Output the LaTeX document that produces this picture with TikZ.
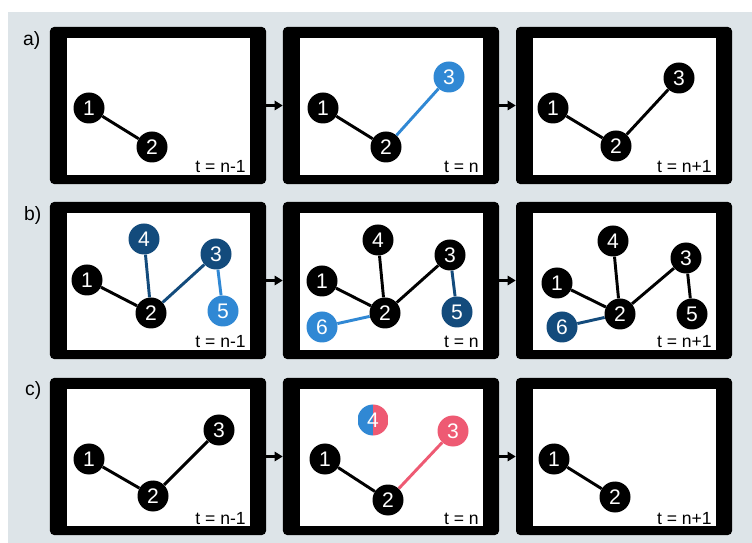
\documentclass[tikz,border=0pt]{standalone}
\usepackage{fontspec}
\setmainfont{Liberation Sans}
\usetikzlibrary{arrows.meta}

\definecolor{bggray}{HTML}{DDE4E8}
\definecolor{lblue}{HTML}{3088D4}
\definecolor{dblue}{HTML}{134B7C}
\definecolor{pinkred}{HTML}{EE5A73}

\tikzset{
  frame/.style={fill=black, rounded corners=3.5pt, inner sep=0pt,
    minimum width=6.48cm, minimum height=4.71cm},
  vtx/.style={circle, fill=black, text=white, inner sep=0pt,
    minimum size=0.93cm, font=\fontsize{18}{18}\selectfont},
  lnk/.style={line width=2.5pt},
  tlabel/.style={font=\fontsize{15}{15}\selectfont, anchor=base east, inner sep=0pt},
  rowlabel/.style={font=\fontsize{16.5}{16.5}\selectfont, anchor=west, inner sep=0pt},
  nextarr/.style={line width=2pt, -{Triangle[length=7pt,width=8pt]}}
}

\begin{document}
\begin{tikzpicture}[x=0.03cm, y=-0.03cm]
\useasboundingbox (0,0) rectangle (752,543);
\fill [white] (0,0) rectangle (752,543);
\fill [bggray] (8,12) rectangle (752,543);

\foreach \r/\yy in {a/105.5, b/280.5, c/456.5} {
  \foreach \c/\xx/\tt in {1/158/n-1, 2/391/n, 3/624/n+1} {
    \node [frame] (f\r\c) at (\xx,\yy) {};
    \fill [white] (\xx-91,\yy-67.5) rectangle ++(183,137);
    \node [tlabel] (t\r\c) at (\xx+88,\yy+67.5) {t = \tt};
  }
  \draw [nextarr] (f\r1) -- (f\r2);
  \draw [nextarr] (f\r2) -- (f\r3);
}

\node [rowlabel] (la) at (23,41)  {a)};
\node [rowlabel] (lb) at (24,215) {b)};
\node [rowlabel] (lc) at (25,390) {c)};

\node [vtx] (a1n1) at (89,108)  {1};
\node [vtx] (a1n2) at (152,147) {2};
\draw [lnk] (a1n1) -- (a1n2);

\node [vtx] (a2n1) at (323,108) {1};
\node [vtx] (a2n2) at (386,147) {2};
\node [vtx, fill=lblue] (a2n3) at (449,77) {3};
\draw [lnk] (a2n1) -- (a2n2);
\draw [lnk, lblue] (a2n2) -- (a2n3);

\node [vtx] (a3n1) at (553,108) {1};
\node [vtx] (a3n2) at (616,146) {2};
\node [vtx] (a3n3) at (679,78)  {3};
\draw [lnk] (a3n1) -- (a3n2);
\draw [lnk] (a3n2) -- (a3n3);

\node [vtx] (b1n1) at (87,280)  {1};
\node [vtx] (b1n2) at (151,313) {2};
\node [vtx, fill=dblue] (b1n4) at (144,239) {4};
\node [vtx, fill=dblue] (b1n3) at (216,254) {3};
\node [vtx, fill=lblue] (b1n5) at (223,311) {5};
\draw [lnk] (b1n1) -- (b1n2);
\draw [lnk, dblue] (b1n2) -- (b1n4);
\draw [lnk, dblue] (b1n2) -- (b1n3);
\draw [lnk, lblue] (b1n3) -- (b1n5);

\node [vtx] (b2n1) at (322,281) {1};
\node [vtx] (b2n2) at (385,313) {2};
\node [vtx] (b2n4) at (378,240) {4};
\node [vtx] (b2n3) at (450,255) {3};
\node [vtx, fill=dblue] (b2n5) at (457,312) {5};
\node [vtx, fill=lblue] (b2n6) at (322,327) {6};
\draw [lnk] (b2n1) -- (b2n2);
\draw [lnk] (b2n2) -- (b2n4);
\draw [lnk] (b2n2) -- (b2n3);
\draw [lnk, dblue] (b2n3) -- (b2n5);
\draw [lnk, lblue] (b2n2) -- (b2n6);

\node [vtx] (b3n1) at (557,283) {1};
\node [vtx] (b3n2) at (620,314) {2};
\node [vtx] (b3n4) at (613,241) {4};
\node [vtx] (b3n3) at (686,258) {3};
\node [vtx] (b3n5) at (692,314) {5};
\node [vtx, fill=dblue] (b3n6) at (562,327) {6};
\draw [lnk] (b3n1) -- (b3n2);
\draw [lnk] (b3n2) -- (b3n4);
\draw [lnk] (b3n2) -- (b3n3);
\draw [lnk] (b3n3) -- (b3n5);
\draw [lnk, dblue] (b3n2) -- (b3n6);

\node [vtx] (c1n1) at (89,459)  {1};
\node [vtx] (c1n2) at (153,496) {2};
\node [vtx] (c1n3) at (219,430) {3};
\draw [lnk] (c1n1) -- (c1n2);
\draw [lnk] (c1n2) -- (c1n3);

\node [vtx] (c2n1) at (325,459) {1};
\node [vtx] (c2n2) at (388,500) {2};
\node [vtx, fill=pinkred] (c2n3) at (453,431) {3};
\node [vtx, fill=none, path picture={
    \fill [lblue] (path picture bounding box.south west) rectangle (path picture bounding box.north);
    \fill [pinkred] (path picture bounding box.south) rectangle (path picture bounding box.north east);
  }] (c2n4) at (373,420) {4};
\draw [lnk] (c2n1) -- (c2n2);
\draw [lnk, pinkred] (c2n2) -- (c2n3);

\node [vtx] (c3n1) at (554,459) {1};
\node [vtx] (c3n2) at (615,497) {2};
\draw [lnk] (c3n1) -- (c3n2);

\end{tikzpicture}
\end{document}
